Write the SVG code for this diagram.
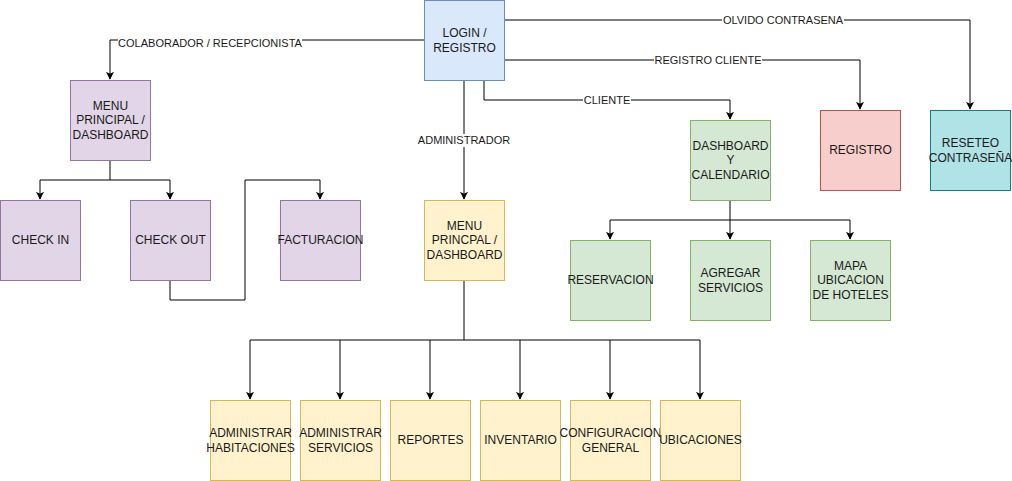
<svg xmlns="http://www.w3.org/2000/svg" width="1012" height="481" viewBox="0 0 1012 481">
<style>
.n{stroke-width:1}
.blue{fill:#dae8fc;stroke:#6c8ebf}
.purple{fill:#e1d5e7;stroke:#9673a6}
.yellow{fill:#fff2cc;stroke:#d6b656}
.green{fill:#d5e8d4;stroke:#82b366}
.red{fill:#f8cecc;stroke:#b85450}
.teal{fill:#b0e3e6;stroke:#0e8088}
text{font-family:"Liberation Sans",Arial,sans-serif;font-size:12px;fill:#1a1a1a;text-anchor:middle}
.el{font-size:11px}
.c path{fill:none;stroke:#000;stroke-width:1}
.lb{fill:#fff}
</style>
<defs>
<marker id="a" viewBox="0 0 10 10" refX="9" refY="5" markerWidth="8" markerHeight="8" markerUnits="userSpaceOnUse" orient="auto">
<path d="M0,0 L10,5 L0,10 L2.5,5 z" fill="#000"/>
</marker>
</defs>
<rect width="1012" height="481" fill="#fff"/>
<g class="c" id="connectors">
<path d="M424,40 H110 V79" marker-end="url(#a)"/>
<path d="M504,20 H970 V109" marker-end="url(#a)"/>
<path d="M504,60 H860 V109" marker-end="url(#a)"/>
<path d="M484,80 V100 H730 V119" marker-end="url(#a)"/>
<path d="M464,80 V199" marker-end="url(#a)"/>
<path d="M110,160 V180 H40 V199" marker-end="url(#a)"/>
<path d="M110,180 H170 V199" marker-end="url(#a)"/>
<path d="M170,280 V300 H245 V180 H320 V199" marker-end="url(#a)"/>
<path d="M730,200 V239" marker-end="url(#a)"/>
<path d="M730,220 H610 V239" marker-end="url(#a)"/>
<path d="M730,220 H850 V239" marker-end="url(#a)"/>
<path d="M464,280 V340"/>
<path d="M464,340 H250 V399" marker-end="url(#a)"/>
<path d="M340,340 V399" marker-end="url(#a)"/>
<path d="M430,340 V399" marker-end="url(#a)"/>
<path d="M464,340 H700 V399" marker-end="url(#a)"/>
<path d="M520,340 V399" marker-end="url(#a)"/>
<path d="M610,340 V399" marker-end="url(#a)"/>
<rect class="lb" x="118" y="36" width="184" height="13"/>
<text class="el" x="210" y="47">COLABORADOR / RECEPCIONISTA</text>
<rect class="lb" x="722" y="14" width="122" height="13"/>
<text class="el" x="783" y="24">OLVIDO CONTRASENA</text>
<rect class="lb" x="654" y="54" width="108" height="13"/>
<text class="el" x="708" y="64">REGISTRO CLIENTE</text>
<rect class="lb" x="583" y="94" width="48" height="13"/>
<text class="el" x="607" y="104">CLIENTE</text>
<rect class="lb" x="417" y="134" width="94" height="13"/>
<text class="el" x="464" y="144">ADMINISTRADOR</text>
</g>
<g id="login"><rect class="blue" x="424.5" y="0.5" width="80" height="80"/><text x="464.5" y="37">LOGIN /</text><text x="464.5" y="52">REGISTRO</text></g>
<g id="menu-colab"><rect class="purple" x="70.5" y="80.5" width="80" height="80"/><text x="110.5" y="110">MENU</text><text x="110.5" y="124">PRINCIPAL /</text><text x="110.5" y="139">DASHBOARD</text></g>
<g id="checkin"><rect class="purple" x="0.5" y="200.5" width="80" height="80"/><text x="40.5" y="244">CHECK IN</text></g>
<g id="checkout"><rect class="purple" x="130.5" y="200.5" width="80" height="80"/><text x="170.5" y="244">CHECK OUT</text></g>
<g id="facturacion"><rect class="purple" x="280.5" y="200.5" width="80" height="80"/><text x="320.5" y="244">FACTURACION</text></g>
<g id="menu-admin"><rect class="yellow" x="424.5" y="200.5" width="80" height="80"/><text x="464.5" y="230">MENU</text><text x="464.5" y="244">PRINCPAL /</text><text x="464.5" y="259">DASHBOARD</text></g>
<g id="dashboard"><rect class="green" x="690.5" y="120.5" width="80" height="80"/><text x="730.5" y="150">DASHBOARD</text><text x="730.5" y="164">Y</text><text x="730.5" y="179">CALENDARIO</text></g>
<g id="registro"><rect class="red" x="820.5" y="110.5" width="80" height="80"/><text x="860.5" y="154">REGISTRO</text></g>
<g id="reseteo"><rect class="teal" x="930.5" y="110.5" width="80" height="80"/><text x="970.5" y="147">RESETEO</text><text x="970.5" y="162">CONTRASEÑA</text></g>
<g id="reservacion"><rect class="green" x="570.5" y="240.5" width="80" height="80"/><text x="610.5" y="284">RESERVACION</text></g>
<g id="agregar"><rect class="green" x="690.5" y="240.5" width="80" height="80"/><text x="730.5" y="277">AGREGAR</text><text x="730.5" y="292">SERVICIOS</text></g>
<g id="mapa"><rect class="green" x="810.5" y="240.5" width="80" height="80"/><text x="850.5" y="270">MAPA</text><text x="850.5" y="284">UBICACION</text><text x="850.5" y="299">DE HOTELES</text></g>
<g id="adm-hab"><rect class="yellow" x="210.5" y="400.5" width="80" height="80"/><text x="250.5" y="437">ADMINISTRAR</text><text x="250.5" y="452">HABITACIONES</text></g>
<g id="adm-serv"><rect class="yellow" x="300.5" y="400.5" width="80" height="80"/><text x="340.5" y="437">ADMINISTRAR</text><text x="340.5" y="452">SERVICIOS</text></g>
<g id="reportes"><rect class="yellow" x="390.5" y="400.5" width="80" height="80"/><text x="430.5" y="444">REPORTES</text></g>
<g id="inventario"><rect class="yellow" x="480.5" y="400.5" width="80" height="80"/><text x="520.5" y="444">INVENTARIO</text></g>
<g id="config"><rect class="yellow" x="570.5" y="400.5" width="80" height="80"/><text x="610.5" y="437">CONFIGURACION</text><text x="610.5" y="452">GENERAL</text></g>
<g id="ubicaciones"><rect class="yellow" x="660.5" y="400.5" width="80" height="80"/><text x="700.5" y="444">UBICACIONES</text></g>
</svg>
